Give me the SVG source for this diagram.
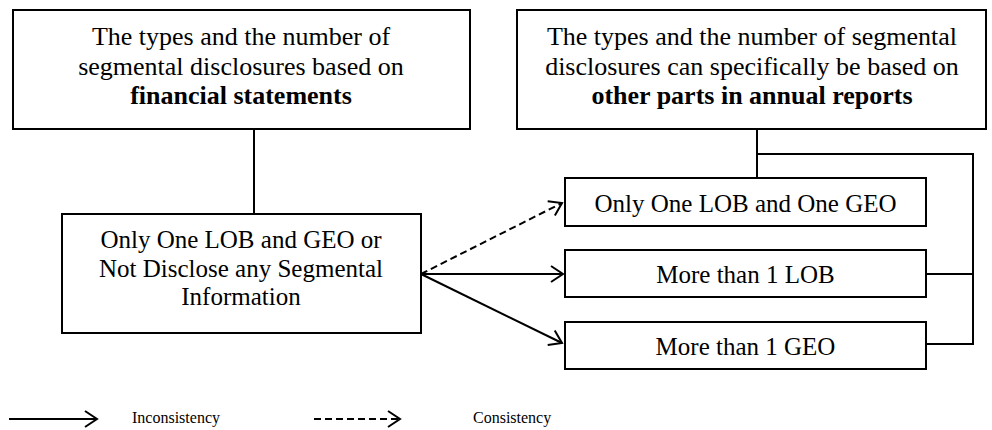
<svg xmlns="http://www.w3.org/2000/svg" width="992" height="430" viewBox="0 0 992 430" font-family="Liberation Serif, Times New Roman, serif">
  <style>
    .box { fill: #ffffff; stroke: #000000; stroke-width: 2; }
    .t { fill: #000000; text-anchor: middle; }
    .big { font-size: 26px; }
    .mid { font-size: 25px; }
    .b { font-weight: bold; }
    .leg { font-size: 16px; fill: #000000; }
    .ln { fill: none; stroke: #000000; stroke-width: 2; }
    .arr { fill: none; stroke: #000000; stroke-width: 2; marker-end: url(#open); }
    .dash { stroke-dasharray: 7 4; }
  </style>
  <defs>
    <marker id="open" markerUnits="userSpaceOnUse" markerWidth="18" markerHeight="20" refX="13" refY="9" orient="auto">
      <path d="M1,1 L13,9 L1,17" fill="none" stroke="#000000" stroke-width="2"/>
    </marker>
  </defs>

  <g id="connectors">
    <line class="ln" x1="254" y1="129" x2="254" y2="214"/>
    <line class="ln" x1="757" y1="129" x2="757" y2="178"/>
    <polyline class="ln" points="757,154 973,154 973,344 926,344"/>
    <line class="ln" x1="926" y1="274" x2="973" y2="274"/>
    <line class="arr dash" x1="421" y1="274" x2="562" y2="203"/>
    <line class="arr" x1="421" y1="274" x2="563" y2="274"/>
    <line class="arr" x1="421" y1="274" x2="562" y2="343"/>
  </g>

  <g id="fs-box">
    <rect class="box" x="13" y="10" width="457" height="119"/>
    <text class="t big" x="241" y="45">The types and the number of</text>
    <text class="t big" x="241" y="74.5">segmental disclosures based on</text>
    <text class="t big b" x="241" y="104">financial statements</text>
  </g>

  <g id="ar-box">
    <rect class="box" x="517" y="10" width="469" height="119"/>
    <text class="t big" x="752" y="45">The types and the number of segmental</text>
    <text class="t big" x="752" y="74.5">disclosures can specifically be based on</text>
    <text class="t big b" x="752" y="104">other parts in annual reports</text>
  </g>

  <g id="none-box">
    <rect class="box" x="62" y="214" width="359" height="119"/>
    <text class="t mid" x="241" y="248">Only One LOB and GEO or</text>
    <text class="t mid" x="241" y="277">Not Disclose any Segmental</text>
    <text class="t mid" x="241" y="305">Information</text>
  </g>

  <g id="one-box">
    <rect class="box" x="565" y="178" width="361" height="48"/>
    <text class="t mid" x="745.5" y="212">Only One LOB and One GEO</text>
  </g>

  <g id="lob-box">
    <rect class="box" x="565" y="250" width="361" height="47"/>
    <text class="t mid" x="745.5" y="283">More than 1 LOB</text>
  </g>

  <g id="geo-box">
    <rect class="box" x="565" y="322" width="361" height="47"/>
    <text class="t mid" x="745.5" y="355">More than 1 GEO</text>
  </g>

  <g id="legend">
    <line class="arr" x1="9" y1="419" x2="97" y2="419"/>
    <text class="leg" x="132" y="423">Inconsistency</text>
    <line class="arr dash" x1="314" y1="419" x2="400" y2="419"/>
    <text class="leg" x="473" y="423">Consistency</text>
  </g>
</svg>
